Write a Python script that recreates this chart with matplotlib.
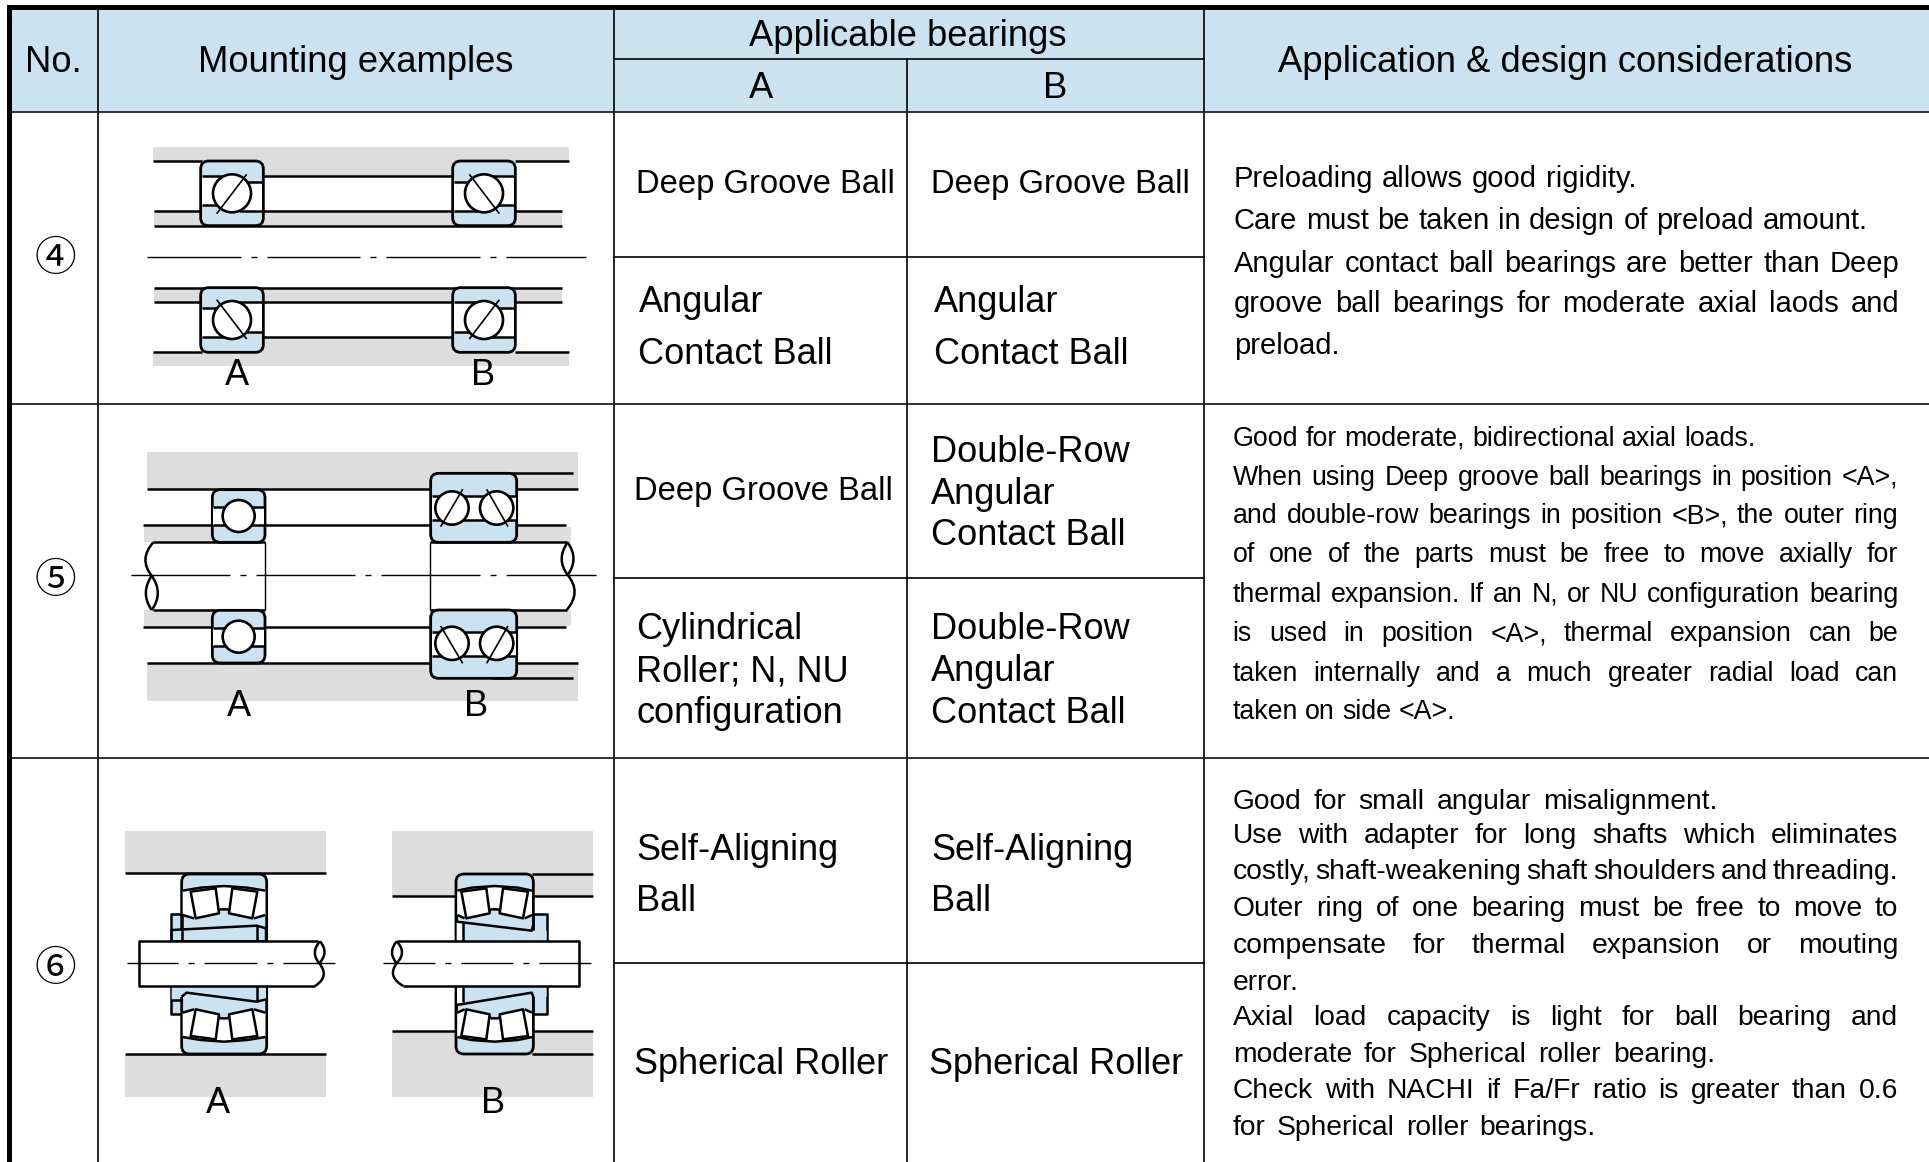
import matplotlib
matplotlib.use('Agg')
import matplotlib.pyplot as plt
from matplotlib.patches import Rectangle, Circle, Polygon, FancyBboxPatch, PathPatch
from matplotlib.path import Path
from matplotlib.transforms import Affine2D

W, H = 1929, 1162
S = 1568 / 1929
BLUE = '#cbe3f0'
GREY = '#dddddd'
FONT = 'Liberation Sans'

# table text, coordinates are in the 1568 wide view of the page
headers = [('No.', 43, 49), ('Mounting examples', 289, 49), ('Applicable bearings', 738, 28),
           ('A', 619, 70), ('B', 858, 70), ('Application & design considerations', 1272, 49)]
row_numbers = [('\u2463', 211), ('\u2464', 473), ('\u2465', 788)]
deep_groove = [('Deep Groove Ball', 517, 148), ('Deep Groove Ball', 757, 148), ('Deep Groove Ball', 515, 398)]
cells = [
    ('Angular', 519, 244), ('Contact Ball', 519, 286), ('Angular', 759, 244), ('Contact Ball', 759, 286),
    ('Double-Row', 757, 366), ('Angular', 757, 400), ('Contact Ball', 757, 433),
    ('Cylindrical', 517, 510), ('Roller; N, NU', 517, 544), ('configuration', 517, 578),
    ('Double-Row', 757, 510), ('Angular', 757, 544), ('Contact Ball', 757, 578),
    ('Self-Aligning', 517, 689), ('Ball', 517, 731), ('Self-Aligning', 757, 689), ('Ball', 757, 731),
    ('Spherical Roller', 515, 863), ('Spherical Roller', 755, 863),
]
notes_4 = [
    ('Preloading allows good rigidity.', 144, 1330),
    ('Care must be taken in design of preload amount.', 178, 1518),
    ('Angular contact ball bearings are better than Deep', 213, 1544),
    ('groove ball bearings for moderate axial laods and', 246, 1544),
    ('preload.', 280, 1088),
]
notes_5 = [
    ('Good for moderate, bidirectional axial loads.', 355, 1427),
    ('When using Deep groove ball bearings in position <A>,', 387, 1543),
    ('and double-row bearings in position <B>, the outer ring', 418, 1543),
    ('of one of the parts must be free to move axially for', 450, 1543),
    ('thermal expansion. If an N, or NU configuration  bearing', 482, 1543),
    ('is used in position <A>, thermal expansion can be', 514, 1543),
    ('taken internally and a much greater radial load can', 546, 1543),
    ('taken on side <A>.', 577, 1183),
]
notes_6 = [
    ('Good for small angular misalignment.', 650, 1396),
    ('Use with adapter for long shafts which eliminates', 678, 1543),
    ('costly, shaft-weakening shaft shoulders and threading.', 707, 1543),
    ('Outer ring of one bearing must be free to move to', 737, 1543),
    ('compensate for thermal expansion or mouting', 767, 1543),
    ('error.', 797, 1050),
    ('Axial load capacity is light for ball bearing and', 826, 1543),
    ('moderate for Spherical roller bearing.', 856, 1394),
    ('Check with NACHI if Fa/Fr ratio is greater than 0.6', 885, 1543),
    ('for Spherical roller bearings.', 915, 1297),
]

fig = plt.figure(figsize=(W / 100, H / 100), dpi=100, facecolor='white')
ax = fig.add_axes([0, 0, 1, 1])
ax.set_xlim(0, 1568)
ax.set_ylim(H * S, 0)
ax.axis('off')
rend = fig.canvas.get_renderer()


def label(txt, x, y, size, ha='center'):
    # y is the visual middle of the capitals
    return ax.text(x, y + size * 1.129 * 0.33, txt, fontsize=size, family=FONT,
                   ha=ha, va='baseline', color='black', zorder=10)


def word_width(word, size):
    t = ax.text(0, 0, word, fontsize=size, family=FONT)
    w = t.get_window_extent(rend).width * S
    t.remove()
    return w


def justified(lines, x0, size):
    for txt, y, x1 in lines:
        words = txt.split()
        widths = [word_width(w, size) for w in words]
        gap = 0
        if len(words) > 1:
            gap = (x1 - x0 - sum(widths)) / (len(words) - 1)
        x = x0
        for w, wd in zip(words, widths):
            label(w, x, y, size, ha='left')
            x += wd + gap


# ---- table frame
ax.add_patch(Rectangle((80, 8), 1488, 83, fc=BLUE, ec='none'))
ax.add_patch(Rectangle((8, 8), 72, 83, fc=BLUE, ec='none'))
for x in (80, 499, 979):
    ax.plot([x, x], [8, H * S], color='black', lw=1.2, zorder=5)
ax.plot([737, 737], [48, H * S], color='black', lw=1.2, zorder=5)
for y in (91, 328, 616):
    ax.plot([8, 1568], [y, y], color='#222222', lw=1.3, zorder=5)
ax.plot([499, 979], [48, 48], color='black', lw=1.2, zorder=5)
for y in (209, 470, 783):
    ax.plot([499, 979], [y, y], color='black', lw=1.2, zorder=5)
ax.add_patch(Rectangle((6, 4), 1562, 4.5, fc='black', ec='none', zorder=6))
ax.add_patch(Rectangle((6, 4), 4, H * S, fc='black', ec='none', zorder=6))

for txt, x, y in headers:
    label(txt, x, y, 26.2)
for txt, y in row_numbers:
    ax.text(45, y, txt, fontsize=30, family=['Noto Sans CJK JP', 'DejaVu Sans'],
            ha='center', va='center', zorder=10)
for txt, x, y in deep_groove:
    label(txt, x, y, 23.6, ha='left')
for txt, x, y in cells:
    label(txt, x, y, 26, ha='left')
justified(notes_4, 1003, 21)
justified(notes_5, 1002, 19.3)
justified(notes_6, 1002, 20.3)


# ---- drawing helpers, each diagram uses the pixels of its own 3x crop
def zoom_tr(ox, oy):
    return Affine2D().scale(1 / 3).translate(ox, oy).scale(S) + ax.transData


def seg(tr, pts, lw=1.8, color='black', z=4):
    xs = [p[0] for p in pts]
    ys = [p[1] for p in pts]
    ax.plot(xs, ys, color=color, lw=lw, transform=tr, zorder=z,
            solid_capstyle='butt', solid_joinstyle='round')


def grey(tr, x0, y0, x1, y1):
    ax.add_patch(Rectangle((x0, y0), x1 - x0, y1 - y0, fc=GREY, ec='none', transform=tr, zorder=1))


def poly(tr, pts, fc='white', edge=False, z=3, lw=1.8):
    ax.add_patch(Polygon(pts, closed=True, fc=fc, ec='black' if edge else 'none',
                         lw=lw, transform=tr, zorder=z, joinstyle='round'))


def box(tr, x0, y0, x1, y1, r=24, fc=BLUE):
    ax.add_patch(FancyBboxPatch((x0 + r, y0 + r), x1 - x0 - 2 * r, y1 - y0 - 2 * r,
                                boxstyle='round,pad=%d,rounding_size=%d' % (r, r),
                                fc=fc, ec='black', lw=2.0, transform=tr, zorder=2))


def ball(tr, cx, cy, r, lw=1.9, z=5):
    ax.add_patch(Circle((cx, cy), r, fc='white', ec='black', lw=lw, transform=tr, zorder=z))


def curve(tr, p0, c, p1, lw=1.8):
    path = Path([p0, c, p1], [Path.MOVETO, Path.CURVE3, Path.CURVE3])
    ax.add_patch(PathPatch(path, fc='none', ec='black', lw=lw, transform=tr, zorder=6))


def centerline(tr, y, x0, x1, gaps):
    # gaps are the start of each 78 wide hole with its short dash in the middle
    pos = x0
    for g in gaps:
        seg(tr, [(pos, y), (g, y)], lw=1.0, z=7)
        seg(tr, [(g + 30, y), (g + 48, y)], lw=1.0, z=7)
        pos = g + 78
    seg(tr, [(pos, y), (x1, y)], lw=1.0, z=7)


def angular(tr, cx, cy, sx, sy):
    def P(dx, dy):
        return (cx + sx * dx, cy + sy * dy)
    box(tr, cx - 94, cy - 97, cx + 94, cy + 97)
    poly(tr, [P(-91, -51), P(0, -51), P(0, -35), P(91, -35), P(91, 53), P(0, 53), P(0, 35), P(-91, 35)])
    seg(tr, [P(-91, -51), P(-20, -51)])
    seg(tr, [P(40, -35), P(91, -35)])
    seg(tr, [P(-91, 35), P(-40, 35)])
    seg(tr, [P(20, 53), P(91, 53)])
    ball(tr, cx, cy, 57)
    seg(tr, [P(-46, 61), P(44, -57)], lw=1.2, z=6)


def spherical(tr, cx, hw, my):
    def P(dx, y, sy):
        return (cx + dx, y if sy > 0 else my - y)
    for sy in (1, -1):
        top = [P(d, y, sy) for d, y in [(-hw, 272), (-70, 263), (0, 258), (70, 263), (hw, 272)]]
        poly(tr, top + [P(d, y, sy) for d, y in [(hw, 345), (90, 355), (20, 340), (10, 328),
                                                 (-10, 328), (-20, 340), (-90, 355), (-hw, 345)]], z=3)
        seg(tr, top)
        seg(tr, [P(d, y, sy) for d, y in [(-hw, 345), (-90, 355)]])
        seg(tr, [P(d, y, sy) for d, y in [(90, 355), (hw, 345)]])
        seg(tr, [P(d, y, sy) for d, y in [(-20, 335), (-10, 328), (10, 328), (20, 335)]])
        poly(tr, [P(d, y, sy) for d, y in [(-100, 275), (-25, 265), (-15, 340), (-85, 355)]], edge=True, z=4)
        poly(tr, [P(d, y, sy) for d, y in [(100, 275), (25, 265), (15, 340), (85, 355)]], edge=True, z=4)


# ---- diagram 4
t4 = zoom_tr(100, 115)
grey(t4, 159, 96, 1407, 138)
grey(t4, 490, 138, 1060, 184)
grey(t4, 163, 288, 1386, 332)
grey(t4, 163, 518, 1386, 562)
grey(t4, 490, 666, 1060, 712)
grey(t4, 159, 712, 1407, 753)
for y, x0, x1 in [(138, 159, 305), (138, 1245, 1407), (712, 159, 305), (712, 1245, 1407),
                  (184, 490, 1060), (666, 490, 1060),
                  (288, 163, 1386), (332, 163, 1386), (518, 163, 1386), (562, 163, 1386)]:
    seg(t4, [(x0, y), (x1, y)], z=1.5)
centerline(t4, 426, 141, 1459, [422, 780, 1140])
angular(t4, 396, 235, 1, 1)
angular(t4, 1152, 235, -1, 1)
angular(t4, 396, 615, 1, -1)
angular(t4, 1152, 615, -1, -1)
label('A', 193, 303, 26)
label('B', 393, 303, 26)

# ---- diagram 5
t5 = zoom_tr(100, 410)
grey(t5, 141, 126, 1434, 238)
grey(t5, 141, 760, 1434, 873)
grey(t5, 132, 347, 340, 397)
grey(t5, 132, 600, 340, 650)
grey(t5, 1250, 350, 1413, 397)
grey(t5, 1250, 600, 1413, 648)
for y, x0, x1 in [(238, 141, 1434), (760, 141, 1434), (190, 1175, 1420), (805, 1175, 1420),
                  (346, 129, 1398), (650, 129, 1398),
                  (397, 160, 495), (397, 990, 1400), (600, 160, 495), (600, 990, 1400)]:
    seg(t5, [(x0, y), (x1, y)], z=1.5)
seg(t5, [(494, 397), (494, 600)], lw=1.0)
seg(t5, [(990, 397), (990, 600)], lw=1.0)
centerline(t5, 495, 94, 1488, [390, 765, 1140])
curve(t5, (160, 397), (115, 447), (155, 497))
curve(t5, (155, 497), (120, 550), (155, 600))
curve(t5, (155, 497), (192, 550), (155, 600))
curve(t5, (1403, 397), (1367, 447), (1403, 495))
curve(t5, (1403, 397), (1438, 447), (1403, 495))
curve(t5, (1403, 495), (1446, 547), (1400, 600))
for cy, dy in [(318, 28), (680, 27)]:
    box(t5, 337, cy - 79, 495, cy + 79)
    poly(t5, [(340, cy - dy), (492, cy - dy), (492, cy + dy), (340, cy + dy)])
    seg(t5, [(340, cy - dy), (492, cy - dy)])
    seg(t5, [(340, cy + dy), (492, cy + dy)])
    ball(t5, 416, cy, 48)
for y0, y1, a, b, c in [(190, 397, 258, 330, 294), (600, 805, 665, 738, 700)]:
    box(t5, 992, y0, 1250, y1)
    poly(t5, [(995, a), (1247, a), (1247, b), (995, b)])
    seg(t5, [(995, a), (1247, a)])
    seg(t5, [(995, b), (1247, b)])
    ball(t5, 1056, c, 50)
    ball(t5, 1190, c, 50)
seg(t5, [(1022, 350), (1088, 238)], lw=1.2, z=6)
seg(t5, [(1160, 238), (1224, 350)], lw=1.2, z=6)
seg(t5, [(1022, 648), (1088, 760)], lw=1.2, z=6)
seg(t5, [(1160, 760), (1224, 648)], lw=1.2, z=6)
label('A', 194, 572, 26)
label('B', 387, 572, 26)

# ---- diagram 6
t6 = zoom_tr(100, 800)
MY = 983
grey(t6, 75, 94, 678, 220)
grey(t6, 75, 762, 678, 890)
grey(t6, 876, 94, 1479, 288)
grey(t6, 876, 694, 1479, 890)
for y, x0, x1 in [(220, 75, 678), (762, 75, 678), (222, 1295, 1479), (762, 1295, 1479),
                  (288, 876, 1065), (288, 1300, 1479), (694, 876, 1065), (694, 1300, 1479)]:
    seg(t6, [(x0, y), (x1, y)], z=1.5)

# A side, sleeve and nut
for sy in (1, -1):
    def Y(y):
        return y if sy > 0 else MY - y
    poly(t6, [(213, Y(342)), (245, Y(342)), (245, Y(424)), (213, Y(424))], fc=BLUE, edge=True, z=1.6)
box(t6, 245, 222, 500, 762)
spherical(t6, 372, 124, MY)
poly(t6, [(215, 390), (470, 377), (498, 385), (498, 424), (215, 424)], fc=BLUE, edge=True, z=4)
seg(t6, [(470, 377), (470, 424)], z=5)
seg(t6, [(245, 342), (245, 424)], z=5)
poly(t6, [(215, 560), (470, 560), (498, 560), (498, 598), (470, 605), (260, 578), (245, 590), (215, 600)],
     fc=BLUE, edge=False, z=4)
seg(t6, [(245, 590), (260, 578), (470, 605), (498, 598)], z=5)
seg(t6, [(470, 558), (470, 605)], z=5)
seg(t6, [(213, 600), (245, 600)], z=5)

# B side
for sy in (1, -1):
    def Y(y):
        return y if sy > 0 else MY - y
    poly(t6, [(1300, Y(342)), (1340, Y(342)), (1340, Y(424)), (1300, Y(424))], fc=BLUE, edge=True, z=1.6)
box(t6, 1068, 222, 1300, 762)
spherical(t6, 1184, 112, MY)
poly(t6, [(1088, 370), (1300, 392), (1340, 392), (1340, 424), (1088, 424)], fc=BLUE, z=4)
poly(t6, [(1070, 365), (1088, 370), (1088, 424), (1070, 424)], z=4)
seg(t6, [(1070, 345), (1070, 365), (1295, 392), (1300, 375)], z=5)
seg(t6, [(1088, 370), (1088, 424)], z=5)
poly(t6, [(1088, 560), (1340, 560), (1340, 590), (1300, 590), (1295, 578), (1088, 605)], fc=BLUE, z=4)
poly(t6, [(1070, 560), (1088, 560), (1088, 610), (1070, 610)], z=4)
seg(t6, [(1070, 640), (1070, 615), (1295, 578), (1300, 590)], z=5)
seg(t6, [(1088, 560), (1088, 605)], z=5)

# shafts on top
poly(t6, [(117, 424), (655, 424), (655, 558), (117, 558)], z=6)
seg(t6, [(655, 424), (117, 424), (117, 558), (645, 558)], z=6.5)
curve(t6, (660, 424), (630, 457), (658, 490))
curve(t6, (660, 424), (688, 457), (658, 490))
curve(t6, (658, 490), (690, 530), (645, 558))
poly(t6, [(885, 424), (1437, 424), (1437, 558), (885, 558)], z=6)
seg(t6, [(890, 424), (1437, 424), (1437, 558), (910, 558)], z=6.5)
curve(t6, (890, 424), (862, 457), (890, 490))
curve(t6, (890, 424), (922, 457), (890, 490))
curve(t6, (890, 490), (860, 530), (910, 558))
centerline(t6, 490, 80, 704, [235, 470])
centerline(t6, 490, 850, 1473, [1005, 1240])
label('A', 177, 895, 26)
label('B', 401, 895, 26)

fig.savefig('out.png', dpi=100, facecolor='white')
